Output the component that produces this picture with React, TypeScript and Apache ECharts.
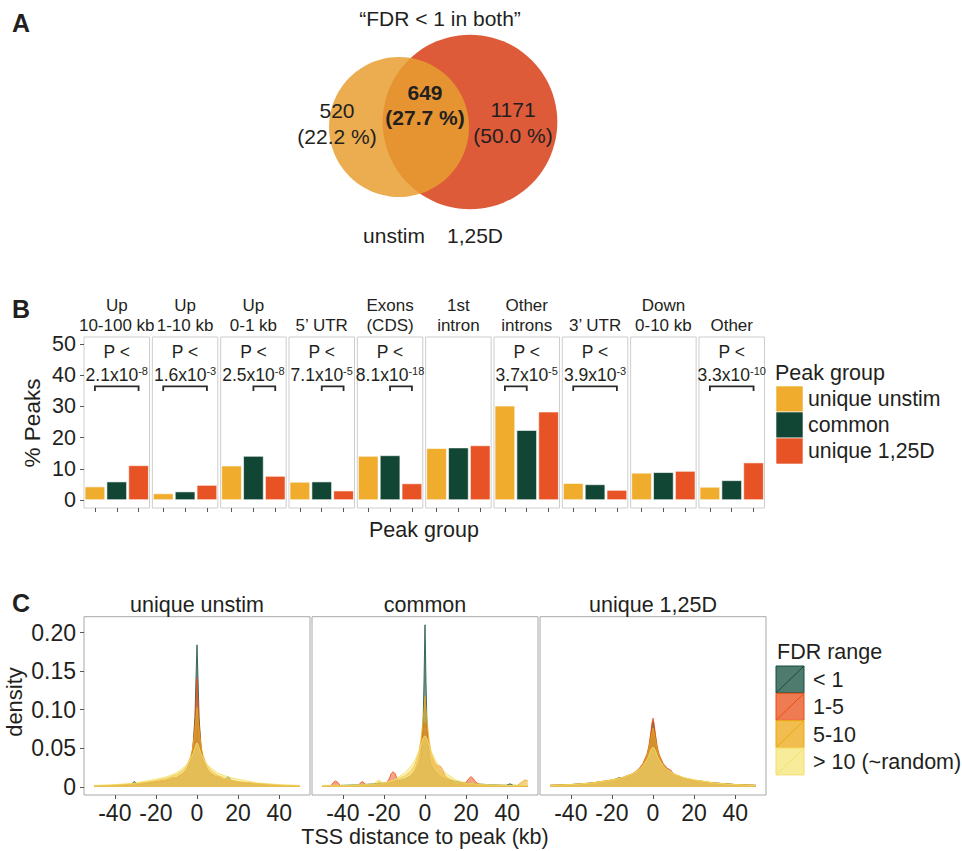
import React, { useEffect, useRef } from "react";
import * as echarts from "echarts";

// ---------- Panel A (Venn) ----------
const vennTitle = "\u201cFDR < 1 in both\u201d";
const vennSets = ["unstim", "1,25D"];
const vennCounts = [520, 649, 1171]; // unstim only, both, 1,25D only

// ---------- Panel B (bars) ----------
const regions = [
  "Up\n10-100 kb", "Up\n1-10 kb", "Up\n0-1 kb", "5\u2019 UTR", "Exons\n(CDS)",
  "1st\nintron", "Other\nintrons", "3\u2019 UTR", "Down\n0-10 kb", "Other",
];
const peakGroups = ["unique unstim", "common", "unique 1,25D"];
const pctUniqueUnstim = [4.3, 2.1, 11.0, 5.8, 14.1, 16.6, 30.2, 5.4, 8.7, 4.2];
const pctCommon = [5.9, 2.7, 14.1, 5.9, 14.3, 16.8, 22.4, 5.0, 8.9, 6.3];
const pctUnique125D = [11.1, 4.8, 7.7, 3.0, 5.3, 17.5, 28.3, 3.2, 9.3, 12.0];
const pMantissa = ["2.1", "1.6", "2.5", "7.1", "8.1", "", "3.7", "3.9", "", "3.3"];
const pExponent = ["-8", "-3", "-8", "-5", "-18", "", "-5", "-3", "", "-10"];
const bracketFrom = [0, 0, 1, 1, 1, null, 0, 0, null, 0];
const bracketTo = [2, 2, 2, 2, 2, null, 1, 2, null, 2];
const bracketLevel = 36.4;
const pctTicks = [0, 10, 20, 30, 40, 50];

// ---------- Panel C (densities) ----------
const cPanels = ["unique unstim", "common", "unique 1,25D"];
const fdrRanges = ["< 1", "1-5", "5-10", "> 10 (~random)"];
const distTicks = [-40, -20, 0, 20, 40];
const densityTicks = [0, 0.05, 0.1, 0.15, 0.2];

const unstimLt1 = [[-50,0.001],[-40,0.002],[-32,0.003],[-31,0.006],[-30.5,0.007],[-30,0.006],[-29,0.003],[-20,0.006],[-15,0.008],[-10,0.012],[-7,0.017],[-5,0.023],[-3,0.034],[-2,0.05],[-1,0.09],[-0.5,0.14],[0,0.184],[0.5,0.14],[1,0.09],[2,0.05],[3,0.034],[5,0.022],[7,0.016],[10,0.012],[13.5,0.009],[14.5,0.012],[15.2,0.013],[16,0.011],[17,0.008],[20,0.006],[30,0.004],[40,0.002],[50,0.001]];
const unstim1to5 = [[-50,0.001],[-40,0.002],[-30,0.004],[-20,0.007],[-15,0.009],[-12,0.012],[-10,0.012],[-7,0.017],[-5,0.023],[-3,0.035],[-2,0.05],[-1,0.082],[-0.5,0.112],[0,0.141],[0.5,0.112],[1,0.082],[2,0.05],[3,0.035],[5,0.023],[7,0.017],[9,0.014],[11,0.013],[13,0.009],[20,0.006],[30,0.004],[40,0.002],[50,0.001]];
const unstim5to10 = [[-50,0.001],[-40,0.002],[-30,0.004],[-20,0.008],[-15,0.011],[-10,0.016],[-7,0.021],[-5,0.027],[-3,0.04],[-2,0.052],[-1,0.074],[-0.5,0.09],[0,0.103],[0.5,0.09],[1,0.074],[2,0.052],[3,0.04],[5,0.027],[7,0.021],[10,0.015],[15,0.01],[20,0.007],[30,0.004],[40,0.002],[50,0.001]];
const unstimGt10 = [[-50,0.002],[-40,0.003],[-30,0.005],[-20,0.01],[-15,0.013],[-10,0.018],[-7,0.024],[-5,0.029],[-3,0.037],[-2,0.043],[-1,0.051],[-0.5,0.055],[0,0.057],[0.5,0.055],[1,0.051],[2,0.043],[3,0.037],[5,0.029],[7,0.024],[10,0.018],[15,0.013],[20,0.01],[30,0.005],[40,0.003],[50,0.002]];

const commonLt1 = [[-50,0.001],[-40,0.002],[-30,0.003],[-20,0.005],[-15,0.007],[-10,0.01],[-7,0.014],[-5,0.019],[-3,0.028],[-2,0.038],[-1,0.075],[-0.5,0.135],[0,0.21],[0.5,0.135],[1,0.075],[2,0.038],[3,0.028],[5,0.02],[7,0.014],[10,0.01],[15,0.007],[20,0.005],[30,0.003],[39.5,0.002],[41.4,0.004],[43,0.002],[50,0.001]];
const common1to5 = [[-50,0.0005],[-46,0.001],[-44.5,0.006],[-43.5,0.0077],[-42.5,0.006],[-41,0.001],[-34,0.0005],[-32.5,0.001],[-31.5,0.005],[-30.5,0.0069],[-29.5,0.005],[-28.5,0.001],[-24,0.001],[-19.5,0.003],[-17.5,0.01],[-16.5,0.017],[-15.5,0.0197],[-14.5,0.017],[-13.5,0.01],[-11.5,0.006],[-8,0.011],[-5,0.021],[-3,0.036],[-2,0.05],[-1,0.07],[-0.5,0.078],[0,0.083],[0.5,0.078],[1,0.07],[2,0.05],[3,0.038],[5,0.03],[6.3,0.027],[7.3,0.027],[8.5,0.023],[9.5,0.016],[12,0.006],[16,0.003],[20,0.006],[21.4,0.011],[22.4,0.0133],[23.4,0.011],[24.8,0.006],[28,0.001],[35,0.0008],[45,0.0005],[50,0.0005]];
const common5to10 = [[-50,0.001],[-40,0.001],[-30,0.002],[-24,0.003],[-22.5,0.007],[-21,0.004],[-15,0.008],[-10,0.014],[-7,0.02],[-5,0.028],[-3,0.045],[-2,0.06],[-1,0.085],[-0.5,0.1],[0,0.117],[0.5,0.1],[1,0.085],[2,0.06],[3,0.045],[5,0.03],[7,0.022],[10,0.013],[15,0.007],[20,0.004],[30,0.002],[40,0.002],[45,0.002],[47.5,0.007],[48.5,0.009],[50,0.008]];
const commonGt10 = [[-50,0.002],[-40,0.002],[-30,0.003],[-25,0.004],[-22.5,0.009],[-20,0.005],[-15,0.009],[-10,0.018],[-7,0.026],[-5,0.034],[-3,0.046],[-2,0.054],[-1,0.062],[-0.5,0.065],[0,0.066],[0.5,0.065],[1,0.062],[2,0.054],[3,0.046],[5,0.035],[7,0.027],[10,0.018],[15,0.009],[20,0.005],[30,0.003],[40,0.002],[50,0.002]];

const d125Lt1 = [[-50,0.002],[-40,0.003],[-30,0.005],[-20,0.008],[-18,0.01],[-16.7,0.012],[-15,0.011],[-10,0.016],[-7,0.022],[-5,0.028],[-3,0.04],[-2,0.05],[-1,0.068],[-0.5,0.078],[0,0.085],[0.5,0.078],[1,0.068],[2,0.05],[3,0.04],[5,0.028],[7,0.022],[10,0.016],[15,0.011],[20,0.008],[23,0.0077],[26,0.006],[30,0.005],[36,0.004],[40,0.003],[50,0.002]];
const d1251to5 = [[-50,0.002],[-40,0.003],[-30,0.005],[-20,0.009],[-15,0.012],[-10,0.017],[-7,0.023],[-5,0.03],[-3,0.042],[-2,0.053],[-1,0.072],[-0.5,0.083],[0,0.089],[0.5,0.083],[1,0.072],[2,0.053],[3,0.042],[5,0.03],[7,0.024],[8.5,0.022],[10,0.017],[15,0.011],[20,0.008],[30,0.005],[40,0.003],[50,0.002]];
const d1255to10 = [[-50,0.002],[-40,0.003],[-30,0.005],[-20,0.009],[-15,0.012],[-10,0.017],[-7,0.022],[-5,0.028],[-3,0.04],[-2,0.05],[-1,0.064],[-0.5,0.071],[0,0.076],[0.5,0.071],[1,0.064],[2,0.05],[3,0.04],[5,0.028],[7,0.022],[10,0.017],[15,0.012],[20,0.009],[30,0.005],[40,0.003],[50,0.002]];
const d125Gt10 = [[-50,0.002],[-40,0.003],[-30,0.005],[-20,0.009],[-15,0.012],[-10,0.017],[-7,0.022],[-5,0.027],[-3,0.035],[-2,0.041],[-1,0.048],[-0.5,0.0505],[0,0.0515],[0.5,0.0505],[1,0.048],[2,0.041],[3,0.035],[5,0.027],[7,0.022],[10,0.017],[15,0.012],[20,0.009],[30,0.005],[40,0.003],[50,0.002]];

const densityByPanel = [
  [unstimLt1, unstim1to5, unstim5to10, unstimGt10],
  [commonLt1, common1to5, common5to10, commonGt10],
  [d125Lt1, d1251to5, d1255to10, d125Gt10],
];

// ---------- styling ----------
const FONT = "'Liberation Sans', Arial, Helvetica, sans-serif";
const INK = "#231f20";
const groupColors = ["#F0AC2C", "#114534", "#E85325"];
const fdrFill = ["#144E3E", "#E84F18", "#ECA713", "#F6E678"];
const fdrLine = ["#144E3E", "#E84F18", "#ECA713", "#F3DF6A"];
const FILL_ALPHA = 0.75;

function hexA(hex: string, a: number) {
  const n = parseInt(hex.slice(1), 16);
  return `rgba(${(n >> 16) & 255},${(n >> 8) & 255},${n & 255},${a})`;
}

function txt(x: number, y: number, text: string, fontSize: number, extra: any = {}) {
  return {
    type: "text",
    x,
    y,
    silent: true,
    rotation: extra.rotation || 0,
    style: {
      text,
      fontSize,
      fontFamily: FONT,
      fontWeight: extra.fontWeight || "normal",
      fill: extra.fill || INK,
      align: extra.align || "center",
      verticalAlign: extra.verticalAlign || "middle",
      lineHeight: extra.lineHeight,
      rich: extra.rich,
    },
  };
}

function buildOption() {
  const grid: any[] = [];
  const xAxis: any[] = [];
  const yAxis: any[] = [];
  const series: any[] = [];
  const graphic: any[] = [];

  // ----- panel letters -----
  graphic.push(txt(21, 23, "A", 25, { fontWeight: "bold" }));
  graphic.push(txt(21, 309, "B", 25, { fontWeight: "bold" }));
  graphic.push(txt(21, 603, "C", 25, { fontWeight: "bold" }));

  // ----- Panel A: Venn -----
  const total = vennCounts[0] + vennCounts[1] + vennCounts[2];
  const nLeft = vennCounts[0] + vennCounts[1];
  const nRight = vennCounts[1] + vennCounts[2];
  const scale = 2.047;
  const rL = scale * Math.sqrt(nLeft);
  const rR = scale * Math.sqrt(nRight);
  const pct = (v: number) => `(${((100 * v) / total).toFixed(1)} %)`;
  graphic.push({ type: "circle", silent: true, shape: { cx: 470, cy: 122, r: rR }, style: { fill: "#DE5B3A" } });
  graphic.push({ type: "circle", silent: true, shape: { cx: 399, cy: 127, r: rL }, style: { fill: "rgb(231,159,48)", opacity: 0.85 } });
  graphic.push(txt(440, 18, vennTitle, 21));
  graphic.push(txt(337, 123.5, `${vennCounts[0]}\n${pct(vennCounts[0])}`, 21, { lineHeight: 26 }));
  graphic.push(txt(425, 104.5, `${vennCounts[1]}\n${pct(vennCounts[1])}`, 21, { lineHeight: 25, fontWeight: "bold" }));
  graphic.push(txt(513, 122.5, `${vennCounts[2]}\n${pct(vennCounts[2])}`, 21, { lineHeight: 26 }));
  graphic.push(txt(394, 235, vennSets[0], 21));
  graphic.push(txt(475, 235, vennSets[1], 21));

  // ----- Panel B -----
  const B_LEFT = 84, B_PITCH = 68.33, B_W = 65.5, B_TOP = 337, B_H = 171;
  regions.forEach((region, i) => {
    const left = B_LEFT + B_PITCH * i;
    grid.push({ left, top: B_TOP, width: B_W, height: B_H, show: true, borderColor: "#cdcdcd", borderWidth: 1, backgroundColor: "#fff" });
    xAxis.push({
      gridIndex: i, type: "category", data: peakGroups, position: "bottom",
      axisLine: { show: false, onZero: false }, axisLabel: { show: false }, splitLine: { show: false },
      axisTick: { show: true, alignWithLabel: true, interval: 0, length: 4, lineStyle: { color: "#555", width: 1 } },
    });
    yAxis.push({
      gridIndex: i, type: "value", min: -2.56, max: 52.24, position: "left",
      axisLine: { show: false, onZero: false }, splitLine: { show: false },
      axisTick: { show: i === 0, customValues: pctTicks, length: 4, lineStyle: { color: "#555", width: 1 } },
      axisLabel: { show: i === 0, customValues: pctTicks, fontSize: 21.5, color: INK, fontFamily: FONT, margin: 8 },
    });
    series.push({
      type: "bar", xAxisIndex: i, yAxisIndex: i, barWidth: "93%", silent: true,
      itemStyle: { borderColor: "#fff", borderWidth: 0.6 },
      data: [pctUniqueUnstim[i], pctCommon[i], pctUnique125D[i]].map((v, k) => ({ value: v, itemStyle: { color: groupColors[k] } })),
    });
    if (bracketFrom[i] !== null) {
      series.push({
        type: "custom", xAxisIndex: i, yAxisIndex: i, silent: true,
        encode: { x: 0, y: 2 },
        data: [[bracketFrom[i], bracketTo[i], bracketLevel]],
        renderItem: (_p: any, api: any) => {
          const a = api.coord([api.value(0), api.value(2)]);
          const b = api.coord([api.value(1), api.value(2)]);
          return {
            type: "polyline",
            shape: { points: [[a[0], a[1] + 4.5], [a[0], a[1]], [b[0], b[1]], [b[0], b[1] + 4.5]] },
            style: { stroke: "#2a2a2a", lineWidth: 1.8, fill: null },
          };
        },
      });
      const cx = left + B_W / 2;
      graphic.push(txt(cx, 352, "P <", 17.5));
      graphic.push({
        type: "text", x: cx, y: 375, silent: true,
        style: {
          text: `{n|${pMantissa[i]}x10}{s|${pExponent[i]}}`,
          align: "center", verticalAlign: "middle", fill: INK, fontFamily: FONT,
          rich: {
            n: { fontSize: 17.5, lineHeight: 20, fontFamily: FONT, fill: INK },
            s: { fontSize: 11, lineHeight: 10, verticalAlign: "top", fontFamily: FONT, fill: INK },
          },
        },
      });
    }
    graphic.push(txt(left + B_W / 2, 336, region, 17, { verticalAlign: "bottom", lineHeight: 20.5 }));
  });
  graphic.push(txt(32, 423, "% Peaks", 22.5, { rotation: Math.PI / 2 }));
  graphic.push(txt(424, 530, "Peak group", 21.5));
  // legend B
  graphic.push(txt(775, 373, "Peak group", 21.5, { align: "left" }));
  peakGroups.forEach((g, k) => {
    graphic.push({ type: "rect", silent: true, shape: { x: 776, y: 386 + 26 * k, width: 27, height: 26 }, style: { fill: groupColors[k], stroke: "#fff", lineWidth: 0.6 } });
    graphic.push(txt(808, 399 + 26 * k, g, 21.3, { align: "left" }));
  });

  // ----- Panel C -----
  const C_LEFT = 84, C_PITCH = 228, C_W = 226, C_TOP = 616.7, C_H = 178.3;
  cPanels.forEach((name, j) => {
    const gi = regions.length + j;
    const left = C_LEFT + C_PITCH * j;
    grid.push({ left, top: C_TOP, width: C_W, height: C_H, show: true, borderColor: "#a8a8a8", borderWidth: 1, backgroundColor: "#fff" });
    xAxis.push({
      gridIndex: gi, type: "value", min: -55, max: 55, position: "bottom",
      axisLine: { show: false, onZero: false }, splitLine: { show: false },
      axisTick: { show: true, customValues: distTicks, length: 4, lineStyle: { color: "#555", width: 1 } },
      axisLabel: { show: true, customValues: distTicks, fontSize: 23, color: INK, fontFamily: FONT, margin: 6 },
    });
    yAxis.push({
      gridIndex: gi, type: "value", min: -0.0105, max: 0.2205, position: "left",
      axisLine: { show: false, onZero: false }, splitLine: { show: false },
      axisTick: { show: j === 0, customValues: densityTicks, length: 4, lineStyle: { color: "#555", width: 1 } },
      axisLabel: {
        show: j === 0, customValues: densityTicks, fontSize: 23, color: INK, fontFamily: FONT, margin: 8,
        formatter: (v: number) => (v === 0 ? "0" : v.toFixed(2)),
      },
    });
    densityByPanel[j].forEach((pts, k) => {
      series.push({
        type: "line", xAxisIndex: gi, yAxisIndex: gi, data: pts, name: fdrRanges[k],
        showSymbol: false, smooth: false, silent: true, z: 2 + k,
        lineStyle: { color: fdrLine[k], width: 0.8 },
        itemStyle: { color: fdrFill[k] },
        areaStyle: { color: hexA(fdrFill[k], FILL_ALPHA), origin: 0 },
      });
    });
    graphic.push(txt(left + C_W / 2, 605, name, 21.5));
  });
  graphic.push(txt(14, 702, "density", 22, { rotation: Math.PI / 2 }));
  graphic.push(txt(425, 837, "TSS distance to peak (kb)", 21.5));
  // legend C
  graphic.push(txt(777, 652, "FDR range", 21.5, { align: "left" }));
  fdrRanges.forEach((f, k) => {
    const y0 = 666 + 27.3 * k;
    graphic.push({ type: "rect", silent: true, shape: { x: 776, y: y0, width: 28, height: 27 }, style: { fill: hexA(fdrFill[k], FILL_ALPHA), stroke: fdrLine[k], lineWidth: 1 } });
    graphic.push({ type: "line", silent: true, shape: { x1: 776, y1: y0 + 27, x2: 804, y2: y0 }, style: { stroke: fdrLine[k], lineWidth: 1 } });
    graphic.push(txt(813, y0 + 14, f, 21.5, { align: "left" }));
  });

  return {
    animation: false,
    backgroundColor: "#fff",
    textStyle: { fontFamily: FONT },
    grid, xAxis, yAxis, series,
    graphic: { elements: graphic },
  };
}

export default function App() {
  const ref = useRef<HTMLDivElement>(null);
  useEffect(() => {
    document.body.style.margin = "0";
    const chart = echarts.init(ref.current!, null, { renderer: "svg" });
    chart.setOption(buildOption());
    return () => chart.dispose();
  }, []);
  return <div ref={ref} style={{ width: 962, height: 851 }} />;
}
